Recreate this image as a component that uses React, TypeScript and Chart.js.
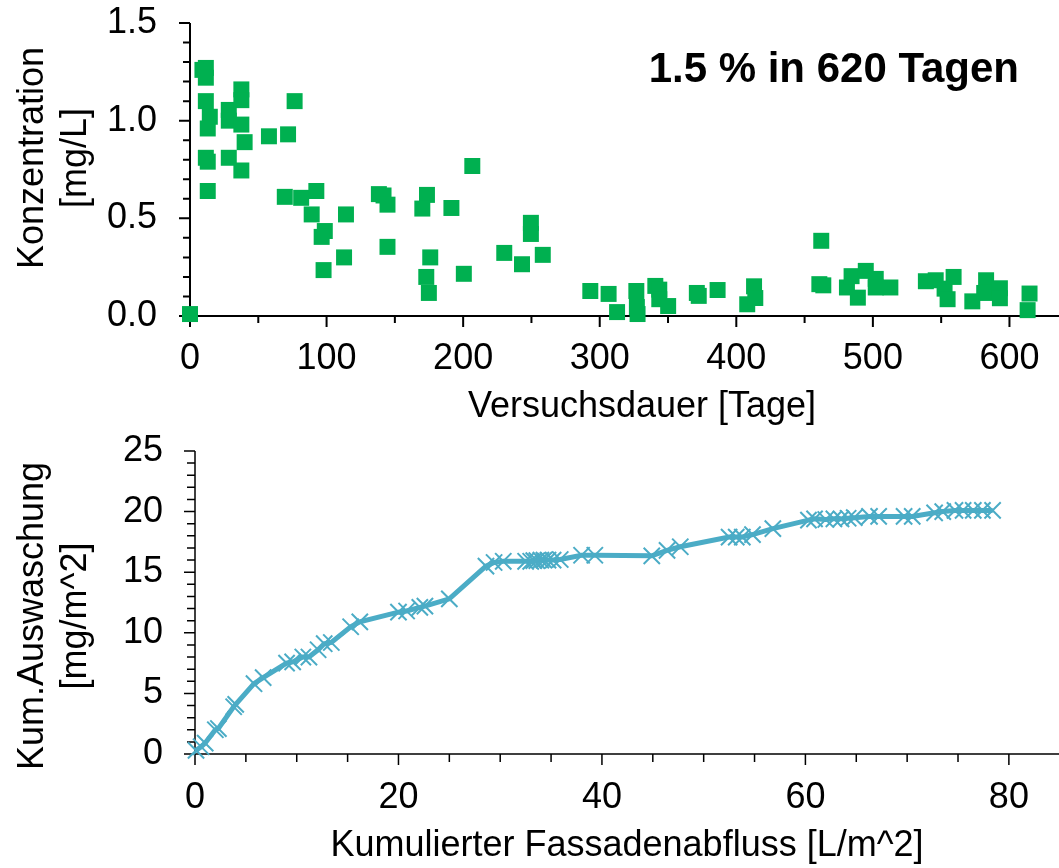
import React, { useEffect, useRef } from 'react';
import { Chart, registerables } from 'chart.js';

Chart.register(...registerables);

const FONT = "'Liberation Sans', Arial, Helvetica, sans-serif";

// ---------- Top chart: concentration vs. test duration ----------
const testDays = [
  0, 9.1, 11.6, 11.6, 11.6, 14.5, 13.0, 11.6, 13.0, 13.0,
  28.4, 28.4, 37.6, 37.6, 37.6, 40.0, 28.4, 37.6, 57.8, 71.8,
  76.6, 69.4, 81.4, 92.5, 89.1, 98.7, 96.4, 97.8, 114.2, 112.8,
  138.3, 141.7, 144.6, 144.6, 173.5, 170.1, 175.9, 173.0, 174.9, 191.4,
  200.5, 206.7, 230.1, 243.1, 249.6, 249.6, 258.3, 293.1, 306.5, 312.7,
  326.8, 327.2, 327.7, 340.7, 343.6, 343.6, 350.1, 371.1, 372.5, 386.3,
  408.0, 413.0, 413.9, 462.2, 460.8, 463.7, 481.0, 484.4, 489.0, 494.8,
  502.1, 502.1, 512.8, 538.8, 546.0, 552.5, 554.7, 559.1, 572.8, 582.9,
  581.5, 593.0, 593.0, 614.7, 613.3,
];
const concentration = [
  0.01, 1.26, 1.27, 1.22, 1.10, 1.02, 0.96, 0.81, 0.79, 0.64,
  1.055, 1.00, 1.16, 1.105, 0.98, 0.89, 0.81, 0.745, 0.92, 0.93,
  1.10, 0.61, 0.605, 0.64, 0.52, 0.435, 0.405, 0.235, 0.52, 0.30,
  0.624, 0.617, 0.57, 0.354, 0.62, 0.55, 0.30, 0.20, 0.118, 0.553,
  0.216, 0.768, 0.323, 0.265, 0.477, 0.42, 0.313, 0.128, 0.113, 0.02,
  0.128, 0.046, 0.01, 0.154, 0.135, 0.086, 0.051, 0.118, 0.103, 0.133,
  0.06, 0.152, 0.092, 0.385, 0.163, 0.157, 0.146, 0.204, 0.094, 0.231,
  0.19, 0.146, 0.146, 0.178, 0.183, 0.14, 0.086, 0.2, 0.075, 0.183,
  0.118, 0.142, 0.091, 0.115, 0.03,
];
const topXTickValues = [0, 100, 200, 300, 400, 500, 600];
const topYTickValues = [0, 0.5, 1.0, 1.5];
const topXTitle = 'Versuchsdauer [Tage]';
const topYTitle = ['Konzentration', '[mg/L]'];
const topNote = '1.5 % in 620 Tagen';

// ---------- Bottom chart: cumulative leaching vs. cumulative runoff ----------
const runoff = [
  0.1, 0.6, 1.0, 2.0, 2.3, 3.8, 4.0, 5.8, 6.7, 9.0,
  9.6, 10.6, 11.2, 12.1, 12.7, 13.4, 15.3, 16.2, 20.0, 20.8,
  22.1, 22.6, 25.0, 28.6, 29.4, 30.3, 32.5, 33.0, 33.3, 33.6,
  34.0, 34.3, 34.7, 35.2, 35.9, 38.0, 39.3, 44.9, 46.4, 47.7,
  52.5, 53.2, 53.8, 54.8, 56.8, 60.3, 60.9, 62.0, 62.8, 63.5,
  64.2, 64.8, 66.3, 67.2, 69.7, 70.5, 72.7, 73.5, 74.7, 75.5,
  76.5, 77.4, 78.4,
];
const leaching = [
  0.3, 0.6, 0.9, 2.0, 2.1, 3.9, 4.1, 5.8, 6.3, 7.5,
  7.6, 8.0, 8.0, 8.6, 9.1, 9.2, 10.5, 10.9, 11.7, 11.8,
  12.1, 12.2, 12.8, 15.5, 15.8, 15.9, 15.9, 15.9, 15.95, 15.95,
  16.0, 16.0, 16.0, 16.0, 16.05, 16.4, 16.4, 16.35, 16.8, 17.1,
  17.9, 17.9, 17.9, 18.1, 18.6, 19.3, 19.4, 19.35, 19.4, 19.4,
  19.45, 19.5, 19.6, 19.6, 19.6, 19.6, 19.9, 20.0, 20.1, 20.1,
  20.1, 20.1, 20.1,
];
const bottomXTickValues = [0, 20, 40, 60, 80];
const bottomYTickValues = [0, 5, 10, 15, 20, 25];
const bottomXTitle = 'Kumulierter Fassadenabfluss [L/m^2]';
const bottomYTitle = ['Kum.Auswaschung', '[mg/m^2]'];

type FrameStyle = {
  xMinor: number; xMajor: number; yMinor: number; yMajor: number;
  lineWidth: number; tickWidth: number; majorLen: number; minorLen: number;
  xTitle: string; xTitleCx: number; xTitleBaseline: number;
  yTitle: string[]; yTitleCy: number; yTitleBaselines: number[];
  note?: string; noteRight?: number; noteBaseline?: number;
};

function isMultiple(v: number, step: number) {
  return Math.abs(v / step - Math.round(v / step)) < 1e-6;
}

function framePlugin(s: FrameStyle) {
  return {
    id: 'frame',
    beforeDatasetsDraw(chart: any) {
      const { ctx, chartArea: a, scales } = chart;
      const xs = scales.x;
      const ys = scales.y;
      ctx.save();
      ctx.strokeStyle = '#000';
      ctx.lineCap = 'butt';
      ctx.lineWidth = s.tickWidth;
      ctx.beginPath();
      const nx = Math.floor((xs.max - xs.min) / s.xMinor + 1e-6);
      for (let i = 0; i <= nx; i++) {
        const v = xs.min + i * s.xMinor;
        const p = xs.getPixelForValue(v);
        const len = isMultiple(v, s.xMajor) ? s.majorLen : s.minorLen;
        ctx.moveTo(p, a.bottom);
        ctx.lineTo(p, a.bottom + len);
      }
      const ny = Math.floor((ys.max - ys.min) / s.yMinor + 1e-6);
      for (let i = 0; i <= ny; i++) {
        const v = ys.min + i * s.yMinor;
        const p = ys.getPixelForValue(v);
        const len = isMultiple(v, s.yMajor) ? s.majorLen : s.minorLen;
        ctx.moveTo(a.left, p);
        ctx.lineTo(a.left - len, p);
      }
      ctx.stroke();
      ctx.lineWidth = s.lineWidth;
      ctx.beginPath();
      ctx.moveTo(a.left, a.top);
      ctx.lineTo(a.left, a.bottom);
      ctx.moveTo(a.left, a.bottom);
      ctx.lineTo(chart.width, a.bottom);
      ctx.stroke();
      ctx.restore();
    },
    afterDraw(chart: any) {
      const { ctx } = chart;
      ctx.save();
      ctx.fillStyle = '#000';
      ctx.font = `36px ${FONT}`;
      ctx.textAlign = 'center';
      ctx.textBaseline = 'alphabetic';
      ctx.fillText(s.xTitle, s.xTitleCx, s.xTitleBaseline);
      s.yTitle.forEach((line, i) => {
        ctx.save();
        ctx.translate(s.yTitleBaselines[i], s.yTitleCy);
        ctx.rotate(-Math.PI / 2);
        ctx.fillText(line, 0, 0);
        ctx.restore();
      });
      if (s.note) {
        ctx.font = `bold 42px ${FONT}`;
        ctx.textAlign = 'right';
        ctx.fillText(s.note, s.noteRight, s.noteBaseline);
      }
      ctx.restore();
    },
  };
}

function tickFont() {
  return { family: FONT, size: 36 };
}

function fitX(height: number) {
  return (sc: any) => {
    sc.height = height;
    sc.paddingLeft = 0; sc.paddingRight = 0; sc.paddingTop = 0; sc.paddingBottom = 0;
  };
}
function fitY(width: number) {
  return (sc: any) => {
    sc.width = width;
    sc.paddingLeft = 0; sc.paddingRight = 0; sc.paddingTop = 0; sc.paddingBottom = 0;
  };
}

function TopChart() {
  const ref = useRef<HTMLCanvasElement>(null);
  useEffect(() => {
    const points = testDays.map((d, i) => ({ x: d, y: concentration[i] }));
    const chart = new Chart(ref.current as HTMLCanvasElement, {
      type: 'scatter',
      data: {
        datasets: [{
          data: points,
          pointStyle: 'rect',
          pointRadius: 11.3,
          pointHoverRadius: 11.3,
          backgroundColor: '#00B050',
          borderWidth: 0,
          clip: false as any,
        }],
      },
      options: {
        responsive: false,
        animation: false,
        devicePixelRatio: 1,
        events: [],
        layout: { padding: { top: 23, right: 0, bottom: 0, left: 0 } },
        plugins: { legend: { display: false }, tooltip: { enabled: false } },
        scales: {
          x: {
            type: 'linear', min: 0, max: 628,
            grid: { display: false, drawTicks: false },
            border: { display: false },
            ticks: { font: tickFont(), color: '#000', padding: 21, maxRotation: 0, autoSkip: false, callback: (v: any) => String(v) },
            afterBuildTicks: (sc: any) => { sc.ticks = topXTickValues.map((v) => ({ value: v })); },
            afterFit: fitX(114),
          },
          y: {
            type: 'linear', min: 0, max: 1.5,
            grid: { display: false, drawTicks: false },
            border: { display: false },
            ticks: { font: tickFont(), color: '#000', padding: 33, autoSkip: false, callback: (v: any) => Number(v).toFixed(1) },
            afterBuildTicks: (sc: any) => { sc.ticks = topYTickValues.map((v) => ({ value: v })); },
            afterFit: fitY(190),
          },
        },
      },
      plugins: [framePlugin({
        xMinor: 50, xMajor: 100, yMinor: 0.1, yMajor: 0.5,
        lineWidth: 2, tickWidth: 2, majorLen: 11, minorLen: 7,
        xTitle: topXTitle, xTitleCx: 642, xTitleBaseline: 417,
        yTitle: topYTitle, yTitleCy: 158, yTitleBaselines: [43, 86],
        note: topNote, noteRight: 1019, noteBaseline: 82,
      })],
    } as any);
    return () => chart.destroy();
  }, []);
  return <canvas ref={ref} width={1059} height={430} style={{ display: 'block' }} />;
}

function BottomChart() {
  const ref = useRef<HTMLCanvasElement>(null);
  useEffect(() => {
    const points = runoff.map((r, i) => ({ x: r, y: leaching[i] }));
    const chart = new Chart(ref.current as HTMLCanvasElement, {
      type: 'line',
      data: {
        datasets: [{
          data: points,
          borderColor: '#4BACC6',
          borderWidth: 5,
          tension: 0,
          fill: false,
          pointStyle: 'crossRot',
          pointRadius: 11.5,
          pointHoverRadius: 11.5,
          pointBorderWidth: 2,
          pointBorderColor: '#4BACC6',
          pointBackgroundColor: '#4BACC6',
          clip: false as any,
        }],
      },
      options: {
        responsive: false,
        animation: false,
        devicePixelRatio: 1,
        events: [],
        layout: { padding: { top: 21, right: 0, bottom: 0, left: 0 } },
        plugins: { legend: { display: false }, tooltip: { enabled: false } },
        scales: {
          x: {
            type: 'linear', min: 0, max: 83.6,
            grid: { display: false, drawTicks: false },
            border: { display: false },
            ticks: { font: tickFont(), color: '#000', padding: 22, maxRotation: 0, autoSkip: false, callback: (v: any) => String(v) },
            afterBuildTicks: (sc: any) => { sc.ticks = bottomXTickValues.map((v) => ({ value: v })); },
            afterFit: fitX(114),
          },
          y: {
            type: 'linear', min: 0, max: 25,
            grid: { display: false, drawTicks: false },
            border: { display: false },
            ticks: { font: tickFont(), color: '#000', padding: 32, autoSkip: false, callback: (v: any) => String(v) },
            afterBuildTicks: (sc: any) => { sc.ticks = bottomYTickValues.map((v) => ({ value: v })); },
            afterFit: fitY(195),
          },
        },
      },
      plugins: [framePlugin({
        xMinor: 5, xMajor: 20, yMinor: 1, yMajor: 5,
        lineWidth: 1.5, tickWidth: 1.5, majorLen: 11, minorLen: 8,
        xTitle: bottomXTitle, xTitleCx: 627, xTitleBaseline: 426,
        yTitle: bottomYTitle, yTitleCy: 186, yTitleBaselines: [43, 86],
      })],
    } as any);
    return () => chart.destroy();
  }, []);
  return <canvas ref={ref} width={1059} height={438} style={{ display: 'block' }} />;
}

export default function App() {
  return (
    <div style={{ position: 'absolute', left: 0, top: 0, width: 1059, height: 868, background: '#fff' }}>
      <TopChart />
      <BottomChart />
    </div>
  );
}
